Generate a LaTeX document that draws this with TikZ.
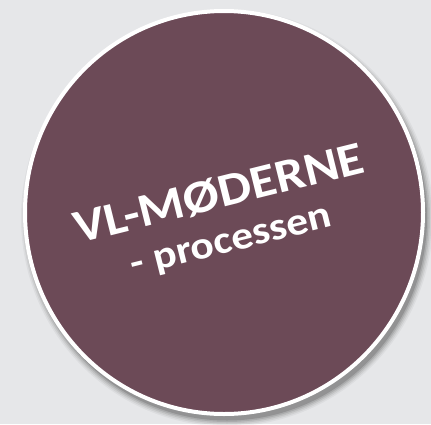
\documentclass[tikz,border=0pt]{standalone}
\usepackage{fontspec}
\setmainfont{Carlito}
\usetikzlibrary{positioning}

\definecolor{bggray}{HTML}{E6E7E9}
\definecolor{plum}{HTML}{6C4A57}

\tikzset{
  disc/.style={fill=plum, draw=white, line width=4pt},
  badge text/.style={text=white, font=\bfseries, align=center, rotate=14, inner sep=0pt},
}

\begin{document}
\begin{tikzpicture}[x=1pt,y=-1pt]
\useasboundingbox (0,0) rectangle (431,424);
\fill[bggray] (0,0) rectangle (431,424);
% soft shadow under the disc
\foreach \r/\o in {6/0.04,4.5/0.06,3/0.08,1.5/0.1,0/0.14}
  \fill[black, opacity=\o] (227,218) ellipse ({200+\r} and {202.5+\r});
\draw[disc] (224,212.5) ellipse (199 and 201.5);
\node[badge text] (title) at (225,217)
  {\scalebox{1.12}[1]{\fontsize{47}{50}\selectfont VL-MØDERNE}\\[22pt]
   \scalebox{1.12}[1]{\fontsize{39}{40}\selectfont - processen}};
\end{tikzpicture}
\end{document}
